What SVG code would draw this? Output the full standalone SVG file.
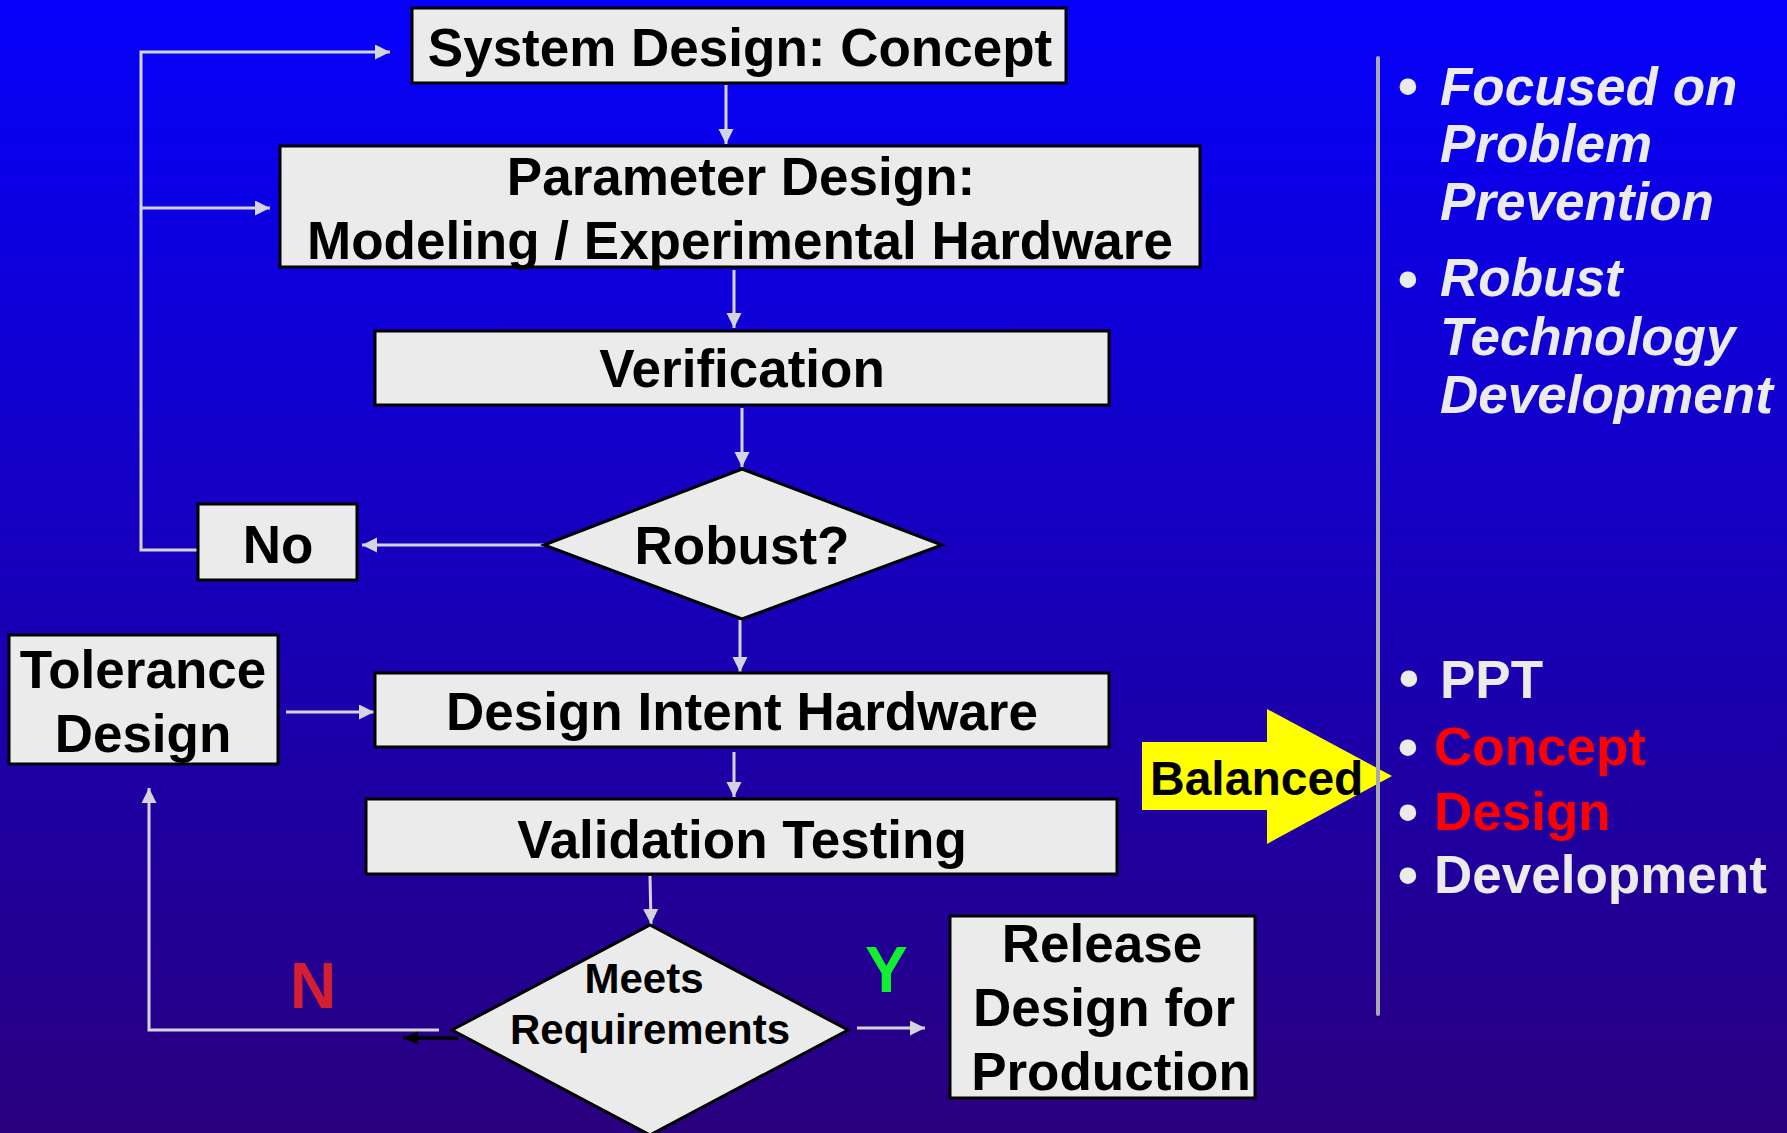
<svg xmlns="http://www.w3.org/2000/svg" width="1787" height="1133" viewBox="0 0 1787 1133">
<defs>
<linearGradient id="bg" x1="0" y1="0" x2="0" y2="1">
<stop offset="0" stop-color="#0500FA"/>
<stop offset="1" stop-color="#29007E"/>
</linearGradient>
<marker id="ag" markerUnits="userSpaceOnUse" markerWidth="16" markerHeight="16" refX="15" refY="7.5" orient="auto">
<path d="M0,0 L15,7.5 L0,15 z" fill="#D4D4DC"/>
</marker>
<marker id="ab" markerUnits="userSpaceOnUse" markerWidth="16" markerHeight="14" refX="15" refY="6.5" orient="auto">
<path d="M0,0 L15,6.5 L0,13 z" fill="#000"/>
</marker>
</defs>
<style>
.box{fill:#EBEBEB;stroke:#000;stroke-width:3}
.t{font-family:"Liberation Sans",Arial,sans-serif;font-weight:bold;fill:#000;text-anchor:middle}
.c{fill:none;stroke:#D4D4DC;stroke-width:3}
.r{font-family:"Liberation Sans",Arial,sans-serif;font-weight:bold;font-size:53px;fill:#EBEBEB}
.ri{font-style:italic}
.red{fill:#FF0000}
.bl{font-family:"Liberation Sans",Arial,sans-serif;font-weight:bold;font-size:58px;fill:#EBEBEB;text-anchor:middle}
</style>
<rect x="0" y="0" width="1787" height="1133" fill="url(#bg)"/>

<g id="connectors">
<polyline class="c" points="199,550 141,550 141,52 390,52" marker-end="url(#ag)"/>
<line class="c" x1="141" y1="208" x2="270" y2="208" marker-end="url(#ag)"/>
<line class="c" x1="726" y1="85" x2="726" y2="144" marker-end="url(#ag)"/>
<line class="c" x1="734" y1="270" x2="734" y2="328" marker-end="url(#ag)"/>
<line class="c" x1="742" y1="408" x2="742" y2="467" marker-end="url(#ag)"/>
<line class="c" x1="545" y1="545" x2="362" y2="545" marker-end="url(#ag)"/>
<line class="c" x1="740" y1="620" x2="740" y2="672" marker-end="url(#ag)"/>
<line class="c" x1="286" y1="712" x2="374" y2="712" marker-end="url(#ag)"/>
<line class="c" x1="734" y1="752" x2="734" y2="797" marker-end="url(#ag)"/>
<line class="c" x1="650" y1="876" x2="651" y2="924" marker-end="url(#ag)"/>
<polyline class="c" points="439,1030 149,1030 149,788" marker-end="url(#ag)"/>
<line x1="458" y1="1038" x2="403" y2="1038" stroke="#000" stroke-width="3.5" marker-end="url(#ab)"/>
<line class="c" x1="857" y1="1028" x2="925" y2="1028" marker-end="url(#ag)"/>
</g>

<g id="system-design">
<rect class="box" x="412" y="8" width="654" height="75"/>
<text class="t" x="740" y="66" font-size="53">System Design: Concept</text>
</g>
<g id="parameter-design">
<rect class="box" x="280" y="146" width="920" height="121"/>
<text class="t" x="741" y="195" font-size="53">Parameter Design:</text>
<text class="t" x="740" y="259" font-size="53">Modeling / Experimental Hardware</text>
</g>
<g id="verification">
<rect class="box" x="375" y="331" width="734" height="74"/>
<text class="t" x="742" y="387" font-size="53">Verification</text>
</g>
<g id="robust">
<polygon class="box" points="742,469 942,545 742,619 544,545"/>
<text class="t" x="742" y="564" font-size="53">Robust?</text>
</g>
<g id="no">
<rect class="box" x="198" y="504" width="159" height="76"/>
<text class="t" x="278" y="563" font-size="53">No</text>
</g>
<g id="tolerance-design">
<rect class="box" x="9" y="635" width="269" height="129"/>
<text class="t" x="143" y="688" font-size="53">Tolerance</text>
<text class="t" x="143" y="752" font-size="53">Design</text>
</g>
<g id="design-intent-hardware">
<rect class="box" x="375" y="673" width="734" height="74"/>
<text class="t" x="742" y="730" font-size="53">Design Intent Hardware</text>
</g>
<g id="validation-testing">
<rect class="box" x="366" y="799" width="751" height="75"/>
<text class="t" x="742" y="858" font-size="53">Validation Testing</text>
</g>
<g id="meets-requirements">
<polygon class="box" points="650,925 848,1030 650,1135 452,1030"/>
<text class="t" x="644" y="993" font-size="42">Meets</text>
<text class="t" x="650" y="1044" font-size="42">Requirements</text>
</g>
<g id="release">
<rect class="box" x="950" y="916" width="305" height="182"/>
<text class="t" x="1102" y="962" font-size="53">Release</text>
<text class="t" x="1104" y="1026" font-size="53">Design for</text>
<text class="t" x="1111" y="1090" font-size="53">Production</text>
</g>
<g id="labels">
<text x="290" y="1008" font-family="Liberation Sans, Arial, sans-serif" font-weight="bold" font-size="64" fill="#D41E32">N</text>
<text x="865" y="992" font-family="Liberation Sans, Arial, sans-serif" font-weight="bold" font-size="64" fill="#10F030">Y</text>
</g>
<g id="balanced">
<polygon points="1142,742 1267,742 1267,709 1392,776 1267,844 1267,810 1142,810" fill="#FFFF00"/>
<text x="1150" y="795" font-family="Liberation Sans, Arial, sans-serif" font-weight="bold" font-size="48" fill="#000">Balanced</text>
</g>
<g id="divider">
<line x1="1378" y1="58" x2="1378" y2="1014" stroke="#A8A8B0" stroke-width="4" stroke-linecap="round"/>
</g>
<g id="right-list-1">
<text class="bl" x="1408" y="106">•</text>
<text class="r ri" x="1440" y="105">Focused on</text>
<text class="r ri" x="1440" y="162">Problem</text>
<text class="r ri" x="1440" y="220">Prevention</text>
<text class="bl" x="1408" y="299">•</text>
<text class="r ri" x="1440" y="296">Robust</text>
<text class="r ri" x="1440" y="355">Technology</text>
<text class="r ri" x="1440" y="413">Development</text>
</g>
<g id="right-list-2">
<text class="bl" x="1409" y="698">•</text>
<text class="r" x="1440" y="698">PPT</text>
<text class="bl" x="1408" y="767">•</text>
<text class="r red" x="1434" y="765">Concept</text>
<text class="bl red" x="1408" y="832">•</text>
<text class="r red" x="1434" y="830">Design</text>
<text class="bl" x="1408" y="895">•</text>
<text class="r" x="1434" y="893">Development</text>
</g>
</svg>
